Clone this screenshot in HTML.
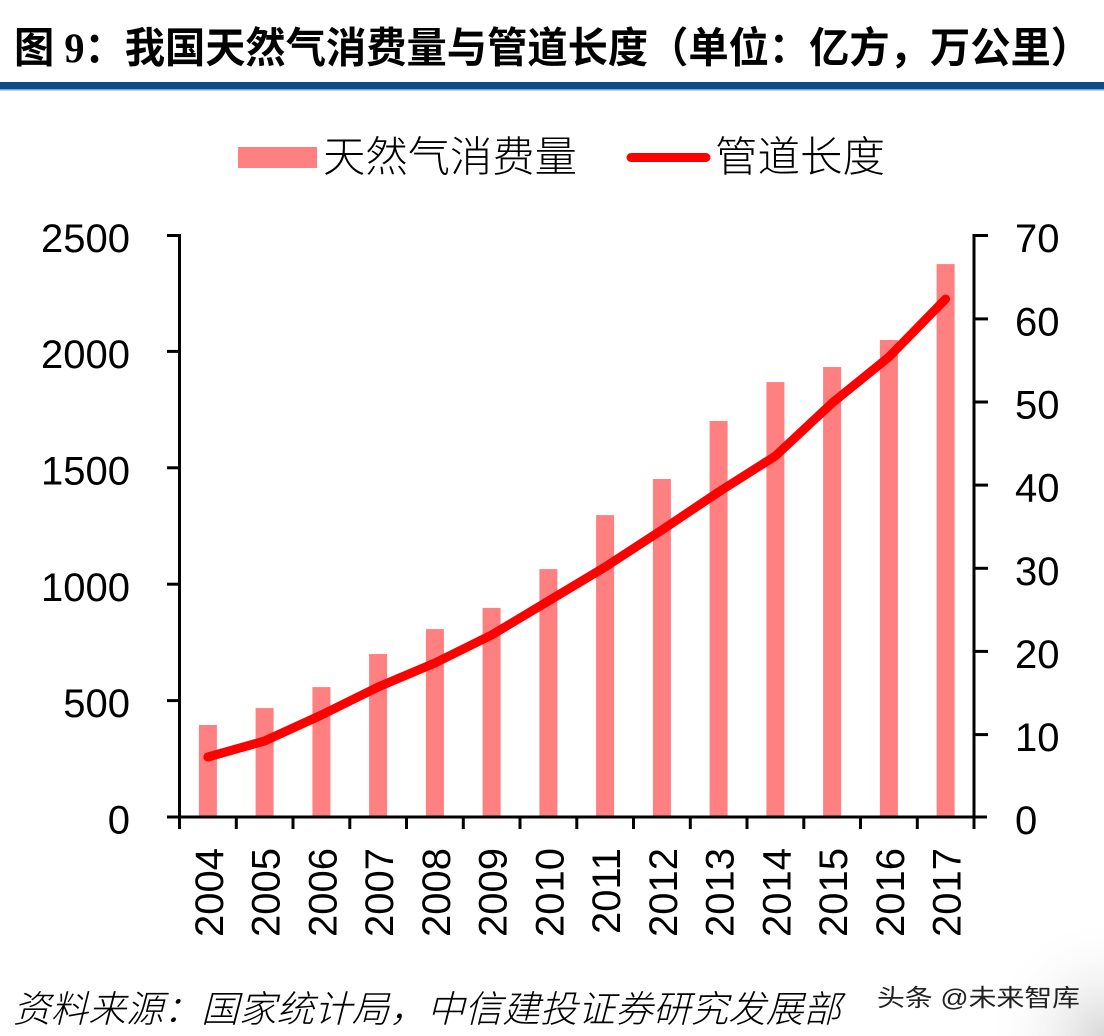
<!DOCTYPE html>
<html>
<head>
<meta charset="utf-8">
<style>
html,body{margin:0;padding:0;background:#fff;}
svg{display:block;}
</style>
</head>
<body>
<svg width="1104" height="1036" viewBox="0 0 1104 1036" xmlns="http://www.w3.org/2000/svg">
<rect x="0" y="0" width="1104" height="1036" fill="#ffffff"/>
<defs>
<radialGradient id="corner" cx="1104" cy="1036" r="120" gradientUnits="userSpaceOnUse">
<stop offset="0" stop-color="#d8d8d8"/>
<stop offset="1" stop-color="#ffffff" stop-opacity="0"/>
</radialGradient>
</defs>
<rect x="980" y="916" width="124" height="120" fill="url(#corner)"/>

<!-- Title -->
<text x="14" y="62.5" font-family="'Liberation Serif','Noto Sans CJK SC',sans-serif" font-weight="bold" font-size="42" fill="#000" textLength="1077" lengthAdjust="spacingAndGlyphs">图 9：我国天然气消费量与管道长度（单位：亿方，万公里）</text>
<rect x="0" y="82" width="1104" height="7" fill="#0b4f86"/>
<rect x="0" y="89" width="1104" height="1.5" fill="#7aa6cc"/>

<!-- Legend -->
<rect x="238" y="147" width="79" height="21" fill="#ff8080"/>
<text x="323" y="171.5" font-family="'Liberation Sans','Noto Sans CJK SC',sans-serif" font-weight="300" font-size="42" fill="#000" textLength="254" lengthAdjust="spacingAndGlyphs">天然气消费量</text>
<line x1="631" y1="157.5" x2="706" y2="157.5" stroke="#ff0000" stroke-width="9" stroke-linecap="round"/>
<text x="715" y="171.5" font-family="'Liberation Sans','Noto Sans CJK SC',sans-serif" font-weight="300" font-size="42" fill="#000" textLength="170" lengthAdjust="spacingAndGlyphs">管道长度</text>

<!-- Bars -->
<g fill="#ff8080">
<rect x="198.9" y="725.0" width="18" height="92.0"/>
<rect x="255.6" y="708.1" width="18" height="108.9"/>
<rect x="312.4" y="687.1" width="18" height="129.9"/>
<rect x="369.1" y="654.0" width="18" height="163.0"/>
<rect x="425.9" y="629.1" width="18" height="187.9"/>
<rect x="482.6" y="607.9" width="18" height="209.1"/>
<rect x="539.4" y="569.1" width="18" height="247.9"/>
<rect x="596.1" y="515.1" width="18" height="301.9"/>
<rect x="652.9" y="479.0" width="18" height="338.0"/>
<rect x="709.6" y="421.0" width="18" height="396.0"/>
<rect x="766.4" y="382.1" width="18" height="434.9"/>
<rect x="823.1" y="367.0" width="18" height="450.0"/>
<rect x="879.9" y="340.0" width="18" height="477.0"/>
<rect x="936.6" y="264.1" width="18" height="552.9"/>
</g>

<!-- Axes -->
<g stroke="#000" stroke-width="3" fill="none">
<line x1="179.5" y1="234" x2="179.5" y2="818"/>
<line x1="974" y1="234" x2="974" y2="818"/>
<line x1="167" y1="817" x2="987" y2="817"/>
<!-- left ticks -->
<line x1="167" y1="235.5" x2="179.5" y2="235.5"/>
<line x1="167" y1="351.4" x2="179.5" y2="351.4"/>
<line x1="167" y1="467.8" x2="179.5" y2="467.8"/>
<line x1="167" y1="584.2" x2="179.5" y2="584.2"/>
<line x1="167" y1="700.6" x2="179.5" y2="700.6"/>
<!-- right ticks -->
<line x1="974" y1="235.5" x2="988" y2="235.5"/>
<line x1="974" y1="318.9" x2="988" y2="318.9"/>
<line x1="974" y1="402.0" x2="988" y2="402.0"/>
<line x1="974" y1="485.1" x2="988" y2="485.1"/>
<line x1="974" y1="568.3" x2="988" y2="568.3"/>
<line x1="974" y1="651.4" x2="988" y2="651.4"/>
<line x1="974" y1="734.6" x2="988" y2="734.6"/>
<!-- category ticks -->
<line x1="179.5" y1="817" x2="179.5" y2="829"/>
<line x1="236.3" y1="817" x2="236.3" y2="829"/>
<line x1="293" y1="817" x2="293" y2="829"/>
<line x1="349.8" y1="817" x2="349.8" y2="829"/>
<line x1="406.5" y1="817" x2="406.5" y2="829"/>
<line x1="463.3" y1="817" x2="463.3" y2="829"/>
<line x1="520" y1="817" x2="520" y2="829"/>
<line x1="576.8" y1="817" x2="576.8" y2="829"/>
<line x1="633.5" y1="817" x2="633.5" y2="829"/>
<line x1="690.3" y1="817" x2="690.3" y2="829"/>
<line x1="747" y1="817" x2="747" y2="829"/>
<line x1="803.8" y1="817" x2="803.8" y2="829"/>
<line x1="860.5" y1="817" x2="860.5" y2="829"/>
<line x1="917.3" y1="817" x2="917.3" y2="829"/>
<line x1="974" y1="817" x2="974" y2="829"/>
</g>

<!-- Line series -->
<polyline fill="none" stroke="#ff0000" stroke-width="9" stroke-linecap="round" stroke-linejoin="round"
points="207.9,757 264.6,741 321.4,715 378.1,687 434.9,663 491.6,635 548.4,601 605.1,567 661.9,530 718.6,492 775.4,456 832.1,403 888.9,357 945.6,299"/>

<!-- Left axis labels -->
<g font-family="'Liberation Sans',sans-serif" font-size="40" fill="#000" text-anchor="end">
<text x="130" y="252">2500</text>
<text x="130" y="368">2000</text>
<text x="130" y="484.5">1500</text>
<text x="130" y="601">1000</text>
<text x="130" y="717">500</text>
<text x="130" y="833.5">0</text>
</g>

<!-- Right axis labels -->
<g font-family="'Liberation Sans',sans-serif" font-size="40" fill="#000" text-anchor="start">
<text x="1015" y="252">70</text>
<text x="1015" y="335.5">60</text>
<text x="1015" y="418.5">50</text>
<text x="1015" y="501.5">40</text>
<text x="1015" y="585">30</text>
<text x="1015" y="668">20</text>
<text x="1015" y="751">10</text>
<text x="1015" y="834">0</text>
</g>

<!-- Year labels -->
<g font-family="'Liberation Sans',sans-serif" font-size="40" fill="#000" text-anchor="end">
<text transform="translate(222.9,848) rotate(-90)">2004</text>
<text transform="translate(279.6,848) rotate(-90)">2005</text>
<text transform="translate(336.4,848) rotate(-90)">2006</text>
<text transform="translate(393.1,848) rotate(-90)">2007</text>
<text transform="translate(449.9,848) rotate(-90)">2008</text>
<text transform="translate(506.6,848) rotate(-90)">2009</text>
<text transform="translate(563.4,848) rotate(-90)">2010</text>
<text transform="translate(620.1,848) rotate(-90)">2011</text>
<text transform="translate(676.9,848) rotate(-90)">2012</text>
<text transform="translate(733.6,848) rotate(-90)">2013</text>
<text transform="translate(790.4,848) rotate(-90)">2014</text>
<text transform="translate(847.1,848) rotate(-90)">2015</text>
<text transform="translate(903.9,848) rotate(-90)">2016</text>
<text transform="translate(960.6,848) rotate(-90)">2017</text>
</g>

<!-- Footer -->
<text x="13" y="1022" font-family="'Liberation Sans','Noto Sans CJK SC',sans-serif" font-style="italic" font-weight="300" font-size="37" fill="#000" textLength="828" lengthAdjust="spacingAndGlyphs">资料来源：国家统计局，中信建投证券研究发展部</text>

<!-- Watermark -->
<text x="877" y="1006" font-family="'Liberation Sans','Noto Sans CJK SC',sans-serif" font-size="24" fill="#222" textLength="203" lengthAdjust="spacingAndGlyphs">头条 @未来智库</text>
</svg>
</body>
</html>
